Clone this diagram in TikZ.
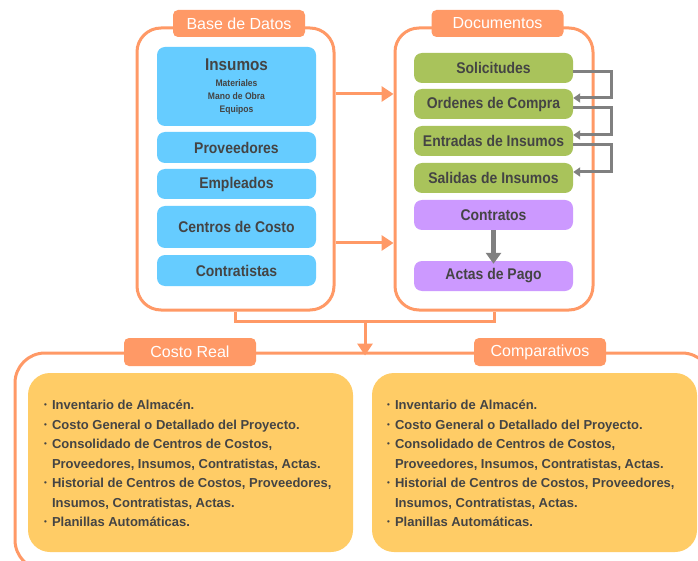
\documentclass[tikz,border=0pt]{standalone}
\usepackage{fontspec}
\setmainfont{Liberation Sans}
\newfontfamily\boxfont[FakeStretch=0.9]{Liberation Sans}
\usetikzlibrary{arrows.meta}

\definecolor{frameorange}{HTML}{FF9966}
\definecolor{boxblue}{HTML}{66CCFF}
\definecolor{boxgreen}{HTML}{A9C35B}
\definecolor{boxviolet}{HTML}{CC99FF}
\definecolor{noteyellow}{HTML}{FFCC66}
\definecolor{textgray}{HTML}{444444}
\definecolor{arrowgray}{HTML}{808080}

\newcommand\listdot{{\fontsize{8}{8}\selectfont\raisebox{1.8pt}{•}}}

\begin{document}
\begin{tikzpicture}[x=1pt,y=-1pt,
  frame/.style={draw=frameorange, line width=3pt, fill=white,
    rounded corners=24pt, inner sep=0pt},
  tag/.style={fill=frameorange, rounded corners=5pt, text=white, inner sep=0pt,
    font=\fontsize{16}{16}\selectfont, minimum width=132pt, minimum height=27pt},
  item/.style={rounded corners=8pt, inner sep=0pt, minimum width=159pt,
    text=textgray, font=\boxfont\bfseries\fontsize{15.5}{16}\selectfont},
  bluebox/.style={item, fill=boxblue},
  greenbox/.style={item, fill=boxgreen, minimum height=30pt},
  violetbox/.style={item, fill=boxviolet, minimum height=30pt},
  notebox/.style={fill=noteyellow, rounded corners=22pt, inner sep=0pt,
    minimum width=325pt, minimum height=179pt},
  listtext/.style={inner sep=0pt, anchor=base west, text=textgray,
    font=\bfseries\fontsize{13}{19.5}\selectfont},
  orangeline/.style={draw=frameorange, line width=3pt},
  orangearrow/.style={orangeline, -{Triangle[length=12pt,width=15pt]}},
  stepline/.style={draw=arrowgray, line width=3pt,
    -{Triangle[length=7pt,width=9pt]}},
  flowarrow/.style={draw=arrowgray, line width=5pt,
    -{Triangle[length=11pt,width=15pt]}}
]
\useasboundingbox (0,0) rectangle (698,561);
\clip (0,0) rectangle (698,561);

% large lower frame (results)
\node[frame, rounded corners=30pt, minimum width=697pt, minimum height=217pt]
  (res) at (363.5,461.5) {};

% the two upper frames
\node[frame, minimum width=197pt, minimum height=282pt] (bd) at (235.5,169) {};
\node[frame, minimum width=198pt, minimum height=282pt] (doc) at (494,169) {};

% database entries
\node[bluebox, minimum height=79pt, align=center,
  font=\boxfont\bfseries\fontsize{9.5}{13}\selectfont] (ins) at (236.5,86.5)
  {{\fontsize{17}{17}\selectfont Insumos}\\[3pt]Materiales\\Mano de Obra\\Equipos};
\node[bluebox, minimum height=31pt] (prov) at (236.5,147.5) {Proveedores};
\node[bluebox, minimum height=30pt] (emp) at (236.5,184) {Empleados};
\node[bluebox, minimum height=42pt] (cc) at (236.5,227) {Centros de Costo};
\node[bluebox, minimum height=31pt] (ctr) at (236.5,270.5) {Contratistas};

% documents
\node[greenbox] (sol) at (493.5,68) {Solicitudes};
\node[greenbox] (ord) at (493.5,104) {Ordenes de Compra};
\node[greenbox] (ent) at (493.5,141) {Entradas de Insumos};
\node[greenbox] (sal) at (493.5,178) {Salidas de Insumos};
\node[violetbox] (con) at (493.5,215) {Contratos};
\node[violetbox] (act) at (493.5,276) {Actas de Pago};

% document chain
\draw[stepline] ([yshift=-4pt]sol.east) -- ++(38,0) |- ([yshift=6pt]ord.east);
\draw[stepline] ([yshift=-4pt]ord.east) -- ++(38,0) |- ([yshift=6pt]ent.east);
\draw[stepline] ([yshift=-4pt]ent.east) -- ++(38,0) |- ([yshift=6pt]sal.east);
\draw[flowarrow] (con.south) -- ([yshift=-3pt]act.north);

% database feeds documents
\draw[orangearrow] (bd.east |- 0,94) -- (doc.west |- 0,94);
\draw[orangearrow] (bd.east |- 0,243) -- (doc.west |- 0,243);

% both frames feed the results
\coordinate (merge) at (365,321);
\draw[orangeline] (bd.south) |- (merge) -- (doc.south |- merge) -- (doc.south);
\draw[orangearrow] (merge) -- ([yshift=-4pt]merge |- res.north);

% result panels
\node[notebox] (crl) at (190.5,462.5) {};
\node[notebox] (cmp) at (534.5,462.5) {};

\node[listtext] (crltext) at (44,409.5) {%
  \begin{tabular}[t]{@{}l@{\hspace{5pt}}l@{}}
  \listdot & Inventario de Almacén.\\
  \listdot & Costo General o Detallado del Proyecto.\\
  \listdot & Consolidado de Centros de Costos,\\
           & Proveedores, Insumos, Contratistas, Actas.\\
  \listdot & Historial de Centros de Costos, Proveedores,\\
           & Insumos, Contratistas, Actas.\\
  \listdot & Planillas Automáticas.
  \end{tabular}};
\node[listtext] (cmptext) at (387,409.5) {%
  \begin{tabular}[t]{@{}l@{\hspace{5pt}}l@{}}
  \listdot & Inventario de Almacén.\\
  \listdot & Costo General o Detallado del Proyecto.\\
  \listdot & Consolidado de Centros de Costos,\\
           & Proveedores, Insumos, Contratistas, Actas.\\
  \listdot & Historial de Centros de Costos, Proveedores,\\
           & Insumos, Contratistas, Actas.\\
  \listdot & Planillas Automáticas.
  \end{tabular}};

% frame titles
\node[tag] (tbd) at (239,23.5) {Base de Datos};
\node[tag] (tdoc) at (497.5,23.5) {Documentos};
\node[tag, minimum height=28pt] (tcr) at (190,352) {Costo Real};
\node[tag, minimum height=28pt] (tcmp) at (540,352) {Comparativos};
\end{tikzpicture}
\end{document}
